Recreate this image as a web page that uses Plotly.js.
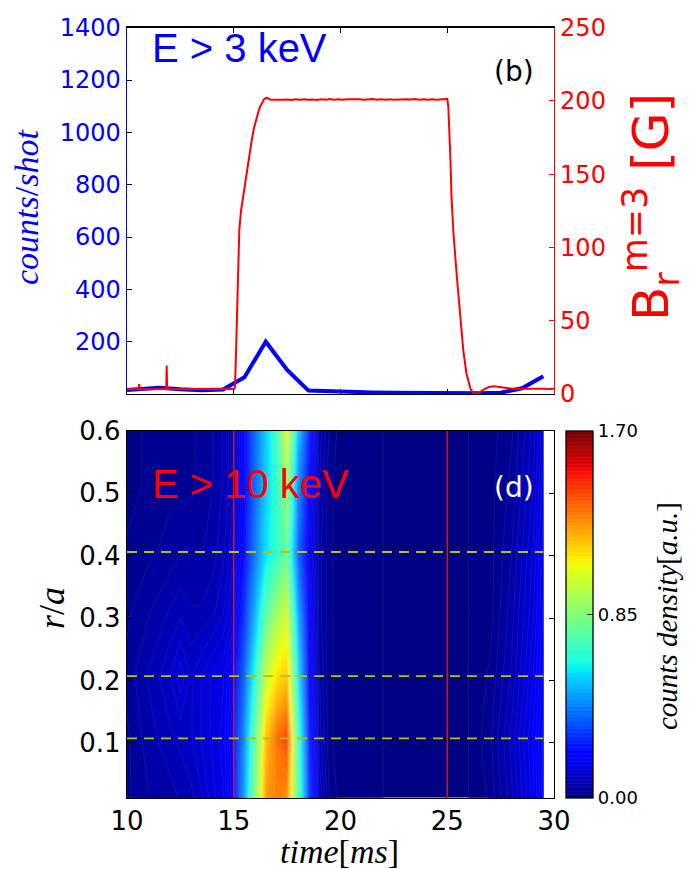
<!DOCTYPE html>
<html><head><meta charset="utf-8">
<script src="https://cdn.plot.ly/plotly-3.0.1.min.js"></script>
<style>html,body{margin:0;padding:0;background:#fff}#chart{width:689px;height:869px}</style>
</head><body><div id="chart"></div>
<script>
// ---- top panel: hard X-ray counts (E > 3 keV) ----
const countTime = [10, 11.5, 12.5, 13.5, 14.5, 15.5, 16.5, 17.5, 18.5, 19.5, 20.5, 21.5, 22.5, 23.5, 24.5, 25.5, 26.5, 27.5, 28.5, 29.5];
const countsPerShot = [15, 24, 18, 14, 17, 64, 200, 92, 13, 10, 8, 6, 5, 4, 3, 3, 3, 5, 22, 68];

// ---- top panel: B_r^{m=3} [G] ----
const bTime = [10.0, 10.3, 10.55, 10.57, 10.59, 10.8, 11.1, 11.4, 11.7, 11.84,
  11.86, 11.88, 12.1, 12.4, 12.7, 13.0, 13.3, 13.6, 13.9, 14.2,
  14.5, 14.8, 15.0, 15.06, 15.12, 15.17, 15.22, 15.26, 15.34, 15.42,
  15.5, 15.6, 15.72, 15.84, 15.94, 16.04, 16.14, 16.23, 16.33, 16.42,
  16.54, 16.7, 16.9, 17.1, 17.3, 17.5, 17.7, 17.9, 18.1, 18.3,
  18.5, 18.7, 18.9, 19.1, 19.3, 19.5, 19.7, 19.9, 20.1, 20.3,
  20.5, 20.7, 20.9, 21.1, 21.3, 21.5, 21.7, 21.9, 22.1, 22.3,
  22.5, 22.7, 22.9, 23.1, 23.3, 23.5, 23.7, 23.9, 24.1, 24.3,
  24.5, 24.7, 24.9, 25.0, 25.05, 25.1, 25.15, 25.2, 25.3, 25.45,
  25.6, 25.75, 25.9, 26.1, 26.25, 26.45, 26.7, 26.95, 27.2, 27.45,
  27.7, 28.0, 28.3, 28.6, 28.9, 29.2, 29.5, 29.8, 30.0];
const bField = [3.5, 3.2, 3.6, 6.8, 3.4, 3.3, 3.6, 3.2, 3.5, 3.4,
  19.5, 3.5, 3.3, 3.6, 3.2, 3.5, 3.3, 3.6, 3.2, 3.5,
  3.3, 3.6, 3.4, 4.5, 35, 64, 92, 112, 125, 133,
  142, 151, 163, 173, 181, 187, 192, 196, 199, 201.2,
  202.3, 201.0, 200.8, 201.1, 200.9, 201.0, 200.7, 201.2, 200.9, 201.2,
  200.8, 201.0, 200.7, 201.2, 200.9, 201.3, 200.9, 201.1, 200.8, 201.2,
  201.3, 200.9, 201.2, 200.8, 201.1, 201.3, 200.9, 201.2, 200.9, 201.2,
  200.8, 201.1, 200.9, 201.2, 201.0, 201.3, 200.8, 201.2, 200.9, 201.2,
  200.9, 201.3, 201.6, 201.4, 196, 182, 160, 134, 108, 80,
  53, 30, 14, 3, 0.3, 0.5, 3, 4.8, 5.2, 4.6,
  4.0, 3.7, 3.5, 3.6, 3.4, 3.5, 3.6, 3.4, 3.5];

// ---- bottom panel: counts density (E > 10 keV) on time x r/a grid ----
const timeGrid = [10, 11, 12, 12.5, 13, 13.5, 14, 14.5, 15, 15.5, 16, 16.5, 17, 17.5, 18, 18.5, 19, 19.5, 20, 22, 24, 26, 27, 28, 29, 29.5];
const rGrid = [0.012, 0.107, 0.207, 0.31, 0.406, 0.51, 0.6];
const density_r012 = [0.03, 0.05, 0.06, 0.07, 0.08, 0.10, 0.13, 0.15, 0.22, 0.48, 0.85, 1.25, 1.30, 1.27, 0.78, 0.32, 0.10, 0.03, 0.01, 0, 0, 0, 0.02, 0.08, 0.16, 0.23];
const density_r107 = [0.03, 0.06, 0.08, 0.09, 0.10, 0.12, 0.14, 0.16, 0.23, 0.44, 0.78, 1.18, 1.33, 1.42, 0.74, 0.28, 0.08, 0.02, 0.01, 0, 0, 0, 0.03, 0.09, 0.17, 0.23];
const density_r207 = [0.04, 0.07, 0.10, 0.13, 0.10, 0.12, 0.14, 0.15, 0.20, 0.37, 0.65, 0.98, 1.12, 1.17, 0.62, 0.23, 0.07, 0.02, 0.01, 0, 0, 0, 0.02, 0.07, 0.15, 0.21];
const density_r310 = [0.03, 0.05, 0.07, 0.08, 0.07, 0.07, 0.08, 0.10, 0.14, 0.28, 0.50, 0.75, 0.90, 1.00, 0.50, 0.20, 0.06, 0.02, 0.01, 0, 0, 0, 0.01, 0.06, 0.13, 0.19];
const density_r406 = [0.02, 0.03, 0.04, 0.05, 0.05, 0.05, 0.06, 0.08, 0.12, 0.22, 0.40, 0.58, 0.68, 0.78, 0.38, 0.18, 0.06, 0.02, 0.01, 0, 0, 0, 0.01, 0.05, 0.12, 0.18];
const density_r510 = [0.01, 0.02, 0.03, 0.03, 0.03, 0.04, 0.05, 0.07, 0.10, 0.20, 0.38, 0.55, 0.68, 0.90, 0.45, 0.22, 0.07, 0.02, 0.01, 0, 0, 0, 0.01, 0.04, 0.10, 0.16];
const density_r600 = [0.01, 0.02, 0.02, 0.03, 0.03, 0.04, 0.05, 0.07, 0.10, 0.20, 0.38, 0.55, 0.70, 1.05, 0.55, 0.28, 0.08, 0.03, 0.01, 0, 0, 0, 0.01, 0.03, 0.09, 0.15];

const colorbarTicks = [0, 0.85, 1.7];
const colorbarTickText = ['0.00', '0.85', '1.70'];
const markerTimes = [15, 25];          // red vertical lines
const detectorR = [0.107, 0.207, 0.406]; // yellow dashed lines

const countTicks = [200, 400, 600, 800, 1000, 1200, 1400];
const bTicks = [0, 50, 100, 150, 200, 250];
const timeTicks = [10, 15, 20, 25, 30];
const rTicks = [0.1, 0.2, 0.3, 0.4, 0.5, 0.6];

// ---- layout helpers (pixel -> paper) ----
const W = 689, H = 869;
const px = v => v / W;
const py = v => 1 - v / H;

const jet = [
  [0, 'rgb(0,0,128)'], [0.11, 'rgb(0,0,255)'], [0.125, 'rgb(0,0,255)'],
  [0.34, 'rgb(0,219,255)'], [0.35, 'rgb(0,230,247)'], [0.375, 'rgb(21,255,226)'],
  [0.64, 'rgb(239,255,8)'], [0.65, 'rgb(247,245,0)'], [0.66, 'rgb(255,236,0)'],
  [0.89, 'rgb(255,19,0)'], [0.91, 'rgb(232,0,0)'], [1, 'rgb(128,0,0)']
];

const tickFont = (c, s) => ({family: 'DejaVu Sans', size: s, color: c});
const BLUE = '#0000ff', RED = '#ff0000';

const traces = [
  {type: 'contour', x: timeGrid, y: rGrid,
   z: [density_r012, density_r107, density_r207, density_r310, density_r406, density_r510, density_r600],
   xaxis: 'x2', yaxis: 'y3', colorscale: jet, zmin: 0, zmax: 1.7, zauto: false,
   contours: {coloring: 'fill', start: 0, end: 1.7, size: 0.017, showlines: true},
   line: {width: 0.5, color: 'rgba(225,225,255,0.16)', smoothing: 0},
   hoverinfo: 'skip',
   colorbar: {x: px(565.7), xanchor: 'left', xref: 'paper', y: py(614.3), yanchor: 'middle', yref: 'paper',
     len: 367, lenmode: 'pixels', thickness: 27, thicknessmode: 'pixels', xpad: 0, ypad: 0,
     outlinecolor: '#000', outlinewidth: 1.3, tickvals: colorbarTicks, ticktext: colorbarTickText,
     ticks: 'inside', ticklen: 6, tickcolor: '#000', tickfont: tickFont('#000', 18)}},
  {type: 'scatter', mode: 'lines', x: countTime, y: countsPerShot, xaxis: 'x', yaxis: 'y',
   line: {color: BLUE, width: 4}, hoverinfo: 'skip'},
  {type: 'scatter', mode: 'lines', x: bTime, y: bField, xaxis: 'x', yaxis: 'y2',
   line: {color: RED, width: 2}, hoverinfo: 'skip'}
];

const shapes = [];
markerTimes.forEach(t => shapes.push({type: 'line', xref: 'x2', yref: 'y3 domain', x0: t, x1: t, y0: 0, y1: 1,
  line: {color: 'rgb(225,25,25)', width: 1.3}}));
detectorR.forEach(r => shapes.push({type: 'line', xref: 'x2', yref: 'y3', x0: timeGrid[0], x1: timeGrid[timeGrid.length - 1],
  y0: r, y1: r, line: {color: 'rgb(191,191,0)', width: 1.8, dash: '10px,7px'}}));

const serif = (s, c) => ({family: 'Liberation Serif', size: s, color: c});
const annotations = [
  {text: 'E > 3 keV', xref: 'paper', yref: 'paper', x: px(150), y: py(48), xanchor: 'left', yanchor: 'middle',
   showarrow: false, font: {family: 'Liberation Sans', size: 40, color: BLUE}},
  {text: '(b)', xref: 'paper', yref: 'paper', x: px(514), y: py(71), xanchor: 'center', yanchor: 'middle',
   showarrow: false, font: {family: 'DejaVu Sans', size: 28, color: '#000'}},
  {text: 'E > 10 keV', xref: 'paper', yref: 'paper', x: px(150), y: py(484), xanchor: 'left', yanchor: 'middle',
   showarrow: false, font: {family: 'Liberation Sans', size: 40, color: RED}},
  {text: '(d)', xref: 'paper', yref: 'paper', x: px(514), y: py(487), xanchor: 'center', yanchor: 'middle',
   showarrow: false, font: {family: 'DejaVu Sans', size: 28, color: '#fff'}},
  {text: '<i>counts</i>/<i>shot</i>', xref: 'paper', yref: 'paper', x: px(26), y: py(207), xanchor: 'center', yanchor: 'middle',
   textangle: -90, showarrow: false, font: serif(34, BLUE)},
  {text: 'B<sub>r</sub><sup>m=3</sup> [G]', xref: 'paper', yref: 'paper', x: px(651), y: py(207), xanchor: 'center', yanchor: 'middle',
   textangle: -90, showarrow: false, font: {family: 'DejaVu Sans', size: 50, color: RED}},
  {text: '<i>r</i>/<i>a</i>', xref: 'paper', yref: 'paper', x: px(52), y: py(608), xanchor: 'center', yanchor: 'middle',
   textangle: -90, showarrow: false, font: serif(36, '#000')},
  {text: '<i>time</i>[<i>ms</i>]', xref: 'paper', yref: 'paper', x: px(339), y: py(851), xanchor: 'center', yanchor: 'middle',
   showarrow: false, font: serif(34, '#000')},
  {text: '<i>counts</i> <i>density</i>[<i>a.u.</i>]', xref: 'paper', yref: 'paper', x: px(667), y: py(616), xanchor: 'center', yanchor: 'middle',
   textangle: -90, showarrow: false, font: serif(29, '#000')}
];

const baseAxis = {showgrid: false, zeroline: false, ticks: 'inside', ticklen: 5, tickwidth: 1, showline: true, linewidth: 1.3};

const layout = {
  width: W, height: H, margin: {l: 0, r: 0, t: 0, b: 0},
  paper_bgcolor: '#fff', plot_bgcolor: '#fff', showlegend: false,
  xaxis: Object.assign({}, baseAxis, {domain: [px(127), px(554)], range: [10, 30], anchor: 'y',
    tickvals: timeTicks, showticklabels: false, tickcolor: '#000', linecolor: '#000', mirror: 'ticks'}),
  yaxis: Object.assign({}, baseAxis, {domain: [py(394), py(27.7)], range: [0, 1400], anchor: 'x',
    tickvals: countTicks, tickcolor: '#000', linecolor: BLUE, tickfont: tickFont(BLUE, 24)}),
  yaxis2: Object.assign({}, baseAxis, {overlaying: 'y', side: 'right', anchor: 'x', range: [0, 250],
    tickvals: bTicks, tickcolor: RED, linecolor: RED, tickfont: tickFont(RED, 24)}),
  xaxis2: Object.assign({}, baseAxis, {domain: [px(127), px(554)], range: [10, 30], anchor: 'y3',
    tickvals: timeTicks, tickcolor: '#000', linecolor: '#000', mirror: 'ticks', tickfont: tickFont('#000', 26)}),
  yaxis3: Object.assign({}, baseAxis, {domain: [py(797.7), py(431)], range: [0.012, 0.6], anchor: 'x2',
    tickvals: rTicks, tickformat: '.1f', tickcolor: '#000', linecolor: '#000', mirror: 'ticks', tickfont: tickFont('#000', 26)}),
  shapes: shapes,
  annotations: annotations
};

Plotly.newPlot('chart', traces, layout, {staticPlot: true, displayModeBar: false});
</script></body></html>
